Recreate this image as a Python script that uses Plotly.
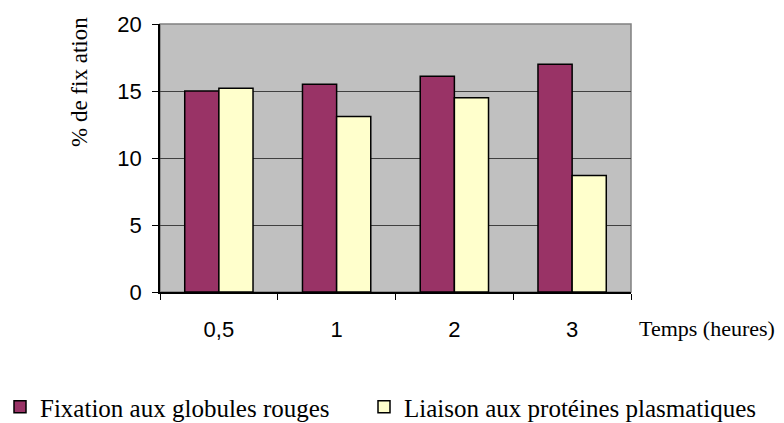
import plotly.graph_objects as go

temps = ["0,5", "1", "2", "3"]
globules = [15.0, 15.5, 16.1, 17.0]
proteines = [15.2, 13.1, 14.5, 8.7]

serif = "Liberation Serif, Times New Roman, serif"
narrow = "Liberation Sans Narrow, Arial Narrow, Liberation Sans, Arial"

fig = go.Figure()
fig.add_trace(go.Bar(x=temps, y=globules, name="Fixation aux globules rouges", legend="legend",
                     marker=dict(color="#993366", line=dict(color="black", width=1.5))))
fig.add_trace(go.Bar(x=temps, y=proteines, name="Liaison aux protéines plasmatiques", legend="legend2",
                     marker=dict(color="#FFFFCC", line=dict(color="black", width=1.5))))

leg = dict(orientation="h", xref="container", yref="container", xanchor="left",
           y=(423 - 407) / 423, yanchor="middle",
           font=dict(family=serif, size=25), itemwidth=30, bgcolor="rgba(0,0,0,0)")

fig.update_layout(
    width=784, height=423,
    margin=dict(l=160, r=153, t=24, b=131, autoexpand=False),
    paper_bgcolor="white", plot_bgcolor="#C0C0C0",
    barmode="group", bargap=0.42, bargroupgap=0,
    font=dict(family=narrow, size=22, color="black"),
    showlegend=True,
    legend=dict(leg, x=0.0),
    legend2=dict(leg, x=364 / 784),
    shapes=[dict(type="rect", xref="paper", yref="paper", x0=0, x1=1, y0=0, y1=1,
                 line=dict(color="#808080", width=1.5), layer="below")],
    annotations=[
        dict(text="Temps (heures)", xref="paper", yref="paper", x=(777 - 160) / 471, y=-0.135,
             xanchor="right", yanchor="middle", showarrow=False,
             font=dict(family=serif, size=22)),
        dict(text="% de fix ation", xref="paper", yref="paper", x=-80 / 471, y=(292 - 82) / 268,
             textangle=-90, xanchor="center", yanchor="middle", showarrow=False,
             font=dict(family=serif, size=23)),
    ],
)
fig.update_xaxes(showline=True, linecolor="black", linewidth=1.5, ticks="outside",
                 tickson="boundaries", ticklen=6, tickcolor="black",
                 ticklabelstandoff=17, showgrid=False, automargin=False)
fig.update_yaxes(range=[0, 20], dtick=5, showline=True, linecolor="black", linewidth=1.5,
                 ticks="outside", ticklen=6, tickcolor="black", showgrid=True,
                 gridcolor="#404040", gridwidth=1, zeroline=False, ticklabelstandoff=6,
                 automargin=False)

# page body has a default 8px margin, drop it so the figure sits at 0,0
fig.write_html("out.html", config={"displayModeBar": False},
               post_script="document.body.style.margin='0';")
